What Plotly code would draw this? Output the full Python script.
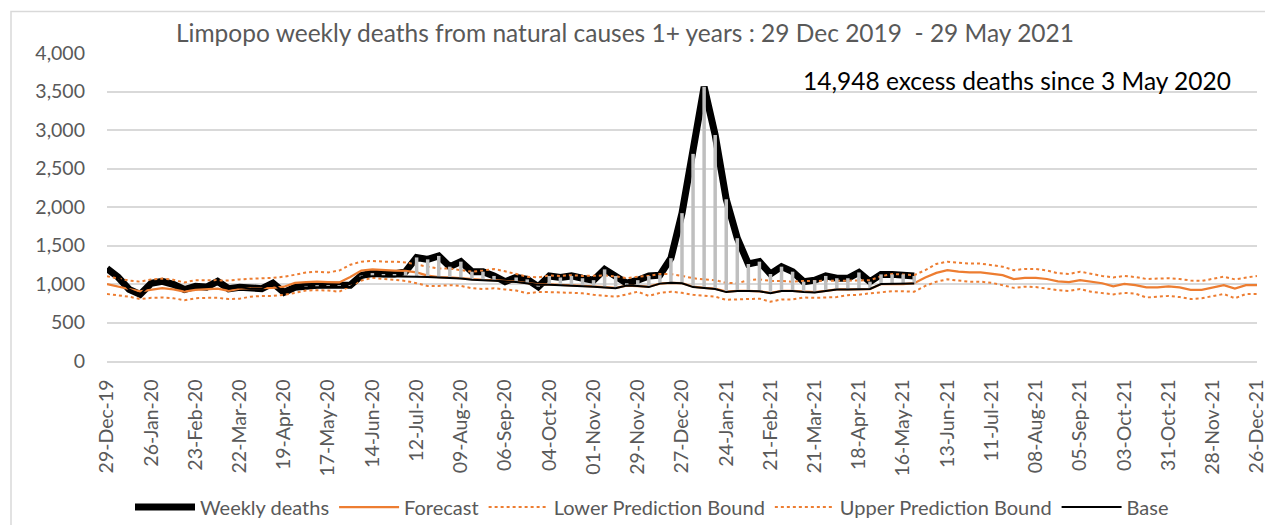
import pandas as pd
import plotly.graph_objects as go

# ---------------- data ----------------
start_date = "2019-12-29"
n_weeks = 105

weekly_deaths = [1200, 1090, 930, 865, 1010, 1035, 995, 928, 970, 960,
                 1035, 938, 958, 940, 940, 1012, 890, 958, 975, 985,
                 985, 985, 985, 1110, 1142, 1130, 1130, 1160, 1345, 1320,
                 1365, 1225, 1290, 1160, 1160, 1105, 1030, 1085, 1060, 965,
                 1105, 1085, 1105, 1075, 1050, 1190, 1105, 1010, 1050, 1105,
                 1115, 1335, 1920, 2690, 3560, 2935, 2100, 1595, 1260, 1290,
                 1130, 1225, 1160, 1030, 1050, 1105, 1075, 1075, 1150, 1030,
                 1125, 1125, 1125, 1105]

forecast = [1000, 965, 935, 905, 925, 945, 930, 900, 925, 935,
            940, 910, 940, 945, 945, 950, 965, 1015, 1025, 1030,
            1025, 1020, 1090, 1175, 1190, 1180, 1175, 1170, 1150, 1110,
            1090, 1085, 1075, 1060, 1055, 1050, 1040, 1030, 1010, 995,
            995, 990, 985, 980, 970, 960, 950, 980, 975, 965,
            1005, 1015, 1010, 965, 950, 940, 900, 910, 910, 905,
            885, 910, 910, 900, 895, 910, 930, 930, 930, 935,
            1000, 1000, 1000, 1010, 1085, 1145, 1180, 1160, 1150, 1150,
            1130, 1115, 1065, 1080, 1080, 1065, 1035, 1025, 1050, 1030,
            1010, 970, 1000, 985, 955, 955, 970, 955, 925, 925,
            955, 985, 940, 985, 985]

upper_bound = [1100, 1070, 1045, 1030, 1060, 1070, 1055, 1020, 1050, 1050,
               1050, 1045, 1060, 1070, 1075, 1080, 1095, 1120, 1150, 1160,
               1150, 1175, 1250, 1290, 1300, 1290, 1290, 1280, 1250, 1225,
               1200, 1200, 1180, 1160, 1175, 1195, 1165, 1130, 1095, 1085,
               1110, 1105, 1115, 1105, 1105, 1110, 1100, 1075, 1095, 1105,
               1130, 1130, 1105, 1075, 1060, 1050, 1015, 1010, 1050, 1060,
               1040, 1040, 1030, 1040, 1040, 1040, 1040, 1045, 1045, 1050,
               1100, 1130, 1120, 1115, 1180, 1260, 1290, 1275, 1265, 1265,
               1245, 1225, 1180, 1195, 1195, 1175, 1140, 1130, 1160, 1130,
               1105, 1085, 1105, 1090, 1065, 1070, 1075, 1065, 1045, 1040,
               1065, 1095, 1060, 1085, 1105]

lower_bound = [870, 855, 835, 805, 820, 825, 815, 790, 815, 820,
               820, 805, 810, 835, 845, 845, 860, 885, 915, 920,
               915, 900, 970, 1045, 1080, 1065, 1050, 1040, 1010, 975,
               975, 985, 975, 945, 935, 945, 930, 915, 880, 895,
               895, 890, 880, 880, 860, 845, 835, 865, 900, 845,
               885, 900, 885, 860, 845, 835, 795, 800, 810, 810,
               770, 800, 800, 825, 820, 825, 830, 855, 860, 880,
               890, 905, 905, 900, 975, 1030, 1060, 1045, 1030, 1030,
               1015, 985, 950, 965, 960, 940, 920, 910, 935, 900,
               880, 865, 885, 875, 825, 835, 845, 830, 805, 815,
               845, 870, 815, 870, 870]

base = [1200, 1090, 930, 865, 1010, 1035, 995, 928, 970, 960,
        1035, 938, 958, 940, 940, 1012, 890, 958, 955, 960,
        960, 960, 960, 1090, 1100, 1100, 1100, 1100, 1095, 1090,
        1085, 1080, 1070, 1055, 1050, 1045, 1035, 1025, 1010, 990,
        990, 985, 980, 975, 965, 955, 945, 980, 975, 960,
        1005, 1015, 1010, 960, 945, 935, 895, 910, 910, 905,
        880, 910, 910, 895, 890, 910, 930, 930, 930, 935,
        1000, 1000, 1000, 1005]

excess_start_week = 18  # 3 May 2020
y_ticks = [0, 500, 1000, 1500, 2000, 2500, 3000, 3500, 4000]

title_text = "Limpopo weekly deaths from natural causes 1+ years : 29 Dec 2019  - 29 May 2021"
note_text = "14,948 excess deaths since 3 May 2020"

# ---------------- build ----------------
dates = pd.date_range(start_date, periods=n_weeks, freq="7D")
tick_dates = dates[::4]
tick_text = [d.strftime("%d-%b-%y") for d in tick_dates]

n_act = len(weekly_deaths)
bar_x, bar_y = [], []
for i in range(excess_start_week, n_act):
    bar_x += [dates[i], dates[i], None]
    bar_y += [base[i], weekly_deaths[i], None]

ORANGE = "#ED7D31"
GREY_TXT = "#595959"
FONT = "Lato"

fig = go.Figure()
fig.add_trace(go.Scatter(x=dates[:n_act], y=weekly_deaths, mode="lines", name="Weekly deaths",
                         line=dict(color="black", width=7)))
fig.add_trace(go.Scatter(x=dates, y=forecast, mode="lines", name="Forecast",
                         line=dict(color=ORANGE, width=2.25)))
fig.add_trace(go.Scatter(x=dates, y=lower_bound, mode="lines", name="Lower Prediction Bound",
                         line=dict(color=ORANGE, width=2, dash="dot")))
fig.add_trace(go.Scatter(x=dates, y=upper_bound, mode="lines", name="Upper Prediction Bound",
                         line=dict(color=ORANGE, width=2, dash="dot")))
fig.add_trace(go.Scatter(x=bar_x, y=bar_y, mode="lines", showlegend=False, hoverinfo="skip",
                         line=dict(color="#BFBFBF", width=3.5)))
fig.add_trace(go.Scatter(x=dates[:n_act], y=base, mode="lines", name="Base",
                         line=dict(color="black", width=2)))

# page has an 8px body margin -> figure origin sits at (8, 8) in the window
OFF = 8
W, H = 1273 - OFF, 525 - OFF
L, T = 107 - OFF, 53 - OFF
R = W - (1257 - OFF)
B = H - (361 - OFF)
pw, ph = W - L - R, H - T - B


def px_x(p):  # window px -> paper fraction
    return (p - OFF - L) / pw


def px_y(p):
    return (H - B - (p - OFF)) / ph


fig.update_layout(
    width=W, height=H,
    margin=dict(l=L, r=R, t=T, b=B, autoexpand=False),
    paper_bgcolor="white", plot_bgcolor="white",
    font=dict(family=FONT, color=GREY_TXT),
    title=dict(text=title_text, x=(625 - OFF) / W, xref="container", xanchor="center",
               y=1 - (33 - OFF) / H, yref="container", yanchor="middle",
               font=dict(size=24.5, color=GREY_TXT, family=FONT)),
    showlegend=True,
    legend=dict(orientation="h", x=px_x(652), xanchor="center", y=px_y(507), yanchor="middle",
                font=dict(size=20, color=GREY_TXT, family=FONT), bgcolor="rgba(0,0,0,0)",
                itemwidth=60, tracegroupgap=0),
    xaxis=dict(range=[dates[0], dates[-1]], tickvals=list(tick_dates), ticktext=tick_text,
               tickangle=-90, showgrid=False, zeroline=False, showline=True, automargin=False,
               linecolor="#D9D9D9", linewidth=1.5, ticks="", ticklabelstandoff=9,
               tickfont=dict(size=19.5, color=GREY_TXT, family=FONT)),
    yaxis=dict(range=[0, 4000], tickvals=y_ticks, tickformat=",", showgrid=True, automargin=False,
               gridcolor="#D9D9D9", gridwidth=1.5, zeroline=False, showline=False,
               ticks="", ticklabelstandoff=21,
               tickfont=dict(size=19.5, color=GREY_TXT, family=FONT)),
    annotations=[dict(text=note_text, x=px_x(1233), y=px_y(80), xref="paper", yref="paper",
                      xanchor="right", yanchor="middle", showarrow=False,
                      font=dict(size=24.5, color="black", family=FONT))],
    shapes=[
        dict(type="rect", xref="paper", yref="paper", x0=px_x(11), x1=px_x(1300),
             y0=px_y(560), y1=px_y(11.5), line=dict(color="#D9D9D9", width=1.5), layer="below"),
    ],
)

fig.write_html("out.html")
